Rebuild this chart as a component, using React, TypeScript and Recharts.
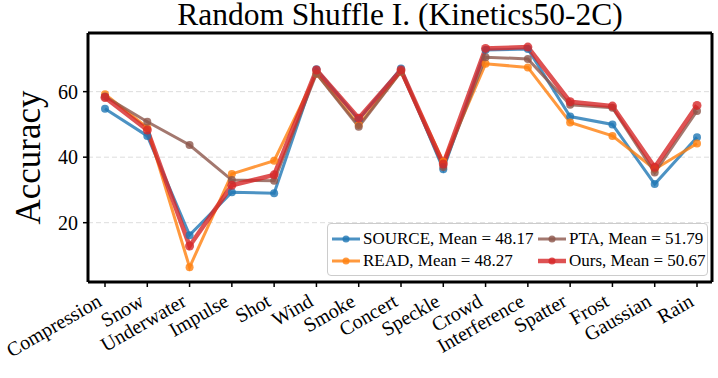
import React from 'react';
import {
  LineChart,
  Line,
  XAxis,
  YAxis,
  CartesianGrid,
  Legend,
  Label,
} from 'recharts';

const categories = [
  'Compression', 'Snow', 'Underwater', 'Impulse', 'Shot', 'Wind', 'Smoke', 'Concert',
  'Speckle', 'Crowd', 'Interference', 'Spatter', 'Frost', 'Gaussian', 'Rain',
];
const sourceValues = [54.8, 46.5, 16.2, 29.3, 29.0, 66.8, 51.4, 67.1, 36.3, 72.7, 73.0, 52.4, 50.0, 31.8, 46.1];
const readValues = [59.2, 49.0, 6.4, 34.9, 38.9, 65.5, 49.8, 66.1, 38.6, 68.5, 67.4, 50.6, 46.5, 36.3, 44.2];
const ptaValues = [58.5, 50.8, 43.7, 33.0, 32.8, 65.5, 49.3, 66.1, 37.0, 70.5, 70.0, 56.0, 55.1, 35.3, 54.1];
const oursValues = [58.2, 48.3, 12.9, 31.4, 34.6, 66.6, 51.9, 66.6, 37.9, 73.2, 73.6, 56.9, 55.6, 36.9, 55.8];
const yTicks = [20, 40, 60];

const series = [
  { key: 'source', name: 'SOURCE, Mean = 48.17', color: '#1f77b4', width: 3, r: 4 },
  { key: 'read', name: 'READ, Mean = 48.27', color: '#ff7f0e', width: 3, r: 4 },
  { key: 'pta', name: 'PTA, Mean = 51.79', color: '#8c564b', width: 3, r: 4 },
  { key: 'ours', name: 'Ours, Mean = 50.67', color: '#d62728', width: 4.5, r: 4.5 },
];

const data = categories.map((name, i) => ({
  name,
  source: sourceValues[i],
  read: readValues[i],
  pta: ptaValues[i],
  ours: oursValues[i],
}));

const font = '"Liberation Serif", "Times New Roman", serif';

const AngledTick = ({ x, y, payload }: any) => {
  const tx = x - 2;
  const ty = y + 15;
  return (
    <text
      x={tx}
      y={ty}
      transform={`rotate(-30 ${tx} ${ty})`}
      textAnchor="end"
      style={{ fontSize: 20, fontFamily: font }}
      fill="#000"
    >
      {payload.value}
    </text>
  );
};

const YTick = ({ x, y, payload }: any) => (
  <text x={x} y={y + 7} textAnchor="end" style={{ fontSize: 20, fontFamily: font }} fill="#000">
    {payload.value}
  </text>
);

const LegendBox = () => (
  <div
    style={{
      border: '1px solid #cccccc',
      borderRadius: 4,
      background: 'rgba(255,255,255,0.8)',
      display: 'grid',
      gridTemplateRows: '22px 22px',
      gridTemplateColumns: '206px auto',
      gridAutoFlow: 'column',
      padding: '4px 4px',
      boxSizing: 'border-box',
      width: 381,
      height: 53,
      fontFamily: font,
      fontSize: 17,
      color: '#000',
    }}
  >
    {series.map((s) => (
      <div key={s.key} style={{ display: 'flex', alignItems: 'center', whiteSpace: 'nowrap' }}>
        <svg width={28} height={22} style={{ marginRight: 3 }}>
          <line x1={0} x2={28} y1={11} y2={11} stroke={s.color} strokeWidth={s.width} strokeOpacity={0.8} />
          <circle cx={14} cy={11} r={3.5} fill={s.color} fillOpacity={0.8} />
        </svg>
        <span>{s.name}</span>
      </div>
    ))}
  </div>
);

export default function App() {
  return (
    <div style={{ position: 'absolute', left: 0, top: 0, background: '#fff' }}>
      <LineChart width={718} height={378} data={data} margin={{ top: 32, right: 5, bottom: 0, left: 0 }}>
        <CartesianGrid vertical={false} stroke="#dddddd" strokeDasharray="5 3" />
        <XAxis
          dataKey="name"
          height={96}
          interval={0}
          padding={{ left: 17, right: 15 }}
          tick={<AngledTick />}
          tickSize={5}
          tickMargin={3}
          axisLine={{ stroke: '#000', strokeWidth: 3 }}
          tickLine={{ stroke: '#000', strokeWidth: 1.5 }}
        />
        <XAxis
          xAxisId="top"
          dataKey="name"
          orientation="top"
          height={1}
          tick={false}
          tickLine={false}
          axisLine={{ stroke: '#000', strokeWidth: 3 }}
        >
          <Label
            value="Random Shuffle I. (Kinetics50-2C)"
            position="top"
            offset={7}
            style={{ fontSize: 31.5, fontFamily: font, fill: '#000' }}
          />
        </XAxis>
        <YAxis
          width={88}
          domain={[1.9, 77.9]}
          ticks={yTicks}
          tickSize={5}
          tickMargin={5}
          tick={<YTick />}
          axisLine={{ stroke: '#000', strokeWidth: 3 }}
          tickLine={{ stroke: '#000', strokeWidth: 1.5 }}
        >
          <Label
            content={(props: any) => {
              const vb = props.viewBox || { x: 0, y: 33, width: 88, height: 249 };
              const cx = vb.x + 40;
              const cy = vb.y + vb.height / 2;
              return (
                <text
                  x={cx}
                  y={cy}
                  transform={`rotate(-90 ${cx} ${cy})`}
                  textAnchor="middle"
                  style={{ fontSize: 35, fontFamily: font }}
                  fill="#000"
                >
                  Accuracy
                </text>
              );
            }}
          />
        </YAxis>
        <YAxis
          yAxisId="right"
          orientation="right"
          width={1}
          domain={[1.9, 77.9]}
          tick={false}
          tickLine={false}
          axisLine={{ stroke: '#000', strokeWidth: 3 }}
        />
        <Legend
          layout="horizontal"
          verticalAlign="middle"
          align="center"
          wrapperStyle={{ left: 327, top: 223, width: 381, height: 53 }}
          content={<LegendBox />}
        />
        {series.map((s) => (
          <Line
            key={s.key}
            type="linear"
            dataKey={s.key}
            name={s.name}
            stroke={s.color}
            strokeWidth={s.width}
            strokeOpacity={0.8}
            dot={{ r: s.r, fill: s.color, fillOpacity: 0.8, stroke: 'none' }}
            activeDot={false}
            isAnimationActive={false}
          />
        ))}
      </LineChart>
    </div>
  );
}
